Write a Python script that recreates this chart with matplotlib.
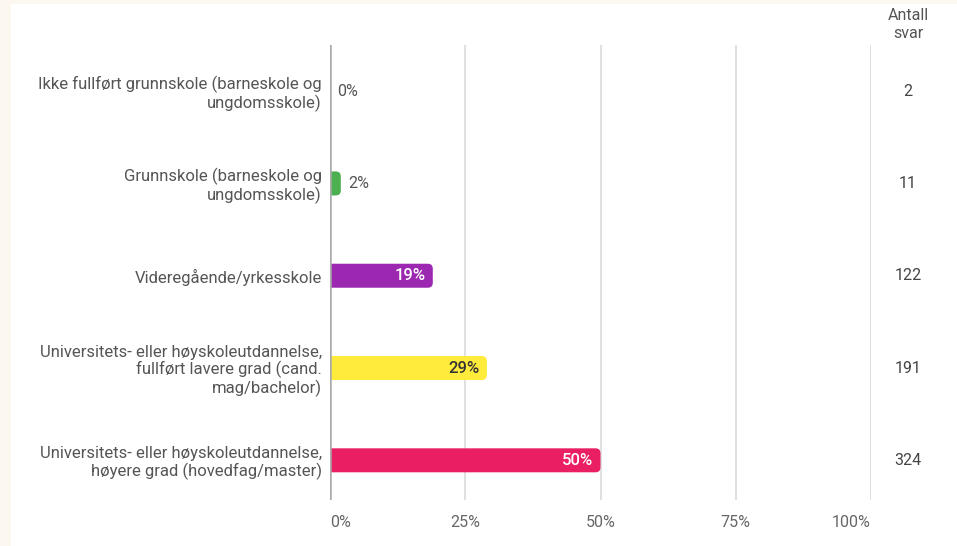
import numpy as np
from matplotlib import pyplot as plt
import matplotlib.transforms as mtransforms
from matplotlib.patches import FancyBboxPatch, Rectangle

# Data
kategorier = [
    'Ikke fullført grunnskole (barneskole og\nungdomsskole)',
    'Grunnskole (barneskole og\nungdomsskole)',
    'Videregående/yrkesskole',
    'Universitets- eller høyskoleutdannelse,\nfullført lavere grad (cand.\nmag/bachelor)',
    'Universitets- eller høyskoleutdannelse,\nhøyere grad (hovedfag/master)',
]
prosent = [0, 2, 19, 29, 50]
antall_svar = [2, 11, 122, 191, 324]
farger = ['#4caf50', '#4caf50', '#9c27b0', '#ffeb3b', '#e91e63']
tekstfarger = ['#555555', '#555555', 'white', '#333333', 'white']
xticks = [0, 25, 50, 75, 100]

W, H = 957, 546
fig = plt.figure(figsize=(W / 100, H / 100), dpi=100)
fig.patch.set_facecolor('#fdf8ef')
# hvitt panel bak alt annet
fig.patches.append(Rectangle((11 / W, 0), 1 - 11 / W, 1 - 4 / H,
                             transform=fig.transFigure, facecolor='white',
                             edgecolor='none', zorder=-10))

x0, x1 = 330, 871
y_top, y_bot = 45, 500
ax = fig.add_axes([x0 / W, 1 - y_bot / H, (x1 - x0) / W, (y_bot - y_top) / H])
ax.set_facecolor('none')
ax.set_xlim(0, 100)
ax.set_ylim(4.43, -0.5)

px_x = 100 / (x1 - x0)          # dataenheter per piksel (x)
px_y = 4.93 / (y_bot - y_top)   # dataenheter per piksel (y)
bar_h = 24 * px_y
radius = 5 * px_x

for x in xticks:
    ax.axvline(x, color='#aaaaaa' if x == 0 else '#dddddd',
               lw=1.8 if x == 0 else 1.3, zorder=4 if x == 0 else 1)

ypos = np.arange(len(kategorier))
for y, p, c, tc in zip(ypos, prosent, farger, tekstfarger):
    if p > 0:
        patch = FancyBboxPatch((-2 * radius, y - bar_h / 2), p + 2 * radius, bar_h,
                               boxstyle='round,pad=0,rounding_size=%f' % radius,
                               mutation_aspect=px_y / px_x,
                               facecolor=c, edgecolor='none', zorder=3)
        ax.add_patch(patch)
    if p >= 10:
        ax.text(p - 7 * px_x, y, '%d%%' % p, ha='right', va='center',
                color=tc, fontsize=12, family='Roboto', fontweight='medium',
                zorder=5)
    else:
        ax.text(p + 7 * px_x, y, '%d%%' % p, ha='left', va='center',
                color='#555555', fontsize=11.5, family='Roboto', zorder=5)

# antall svar-kolonne (x i figurkoordinater, y i datakoordinater)
trans = mtransforms.blended_transform_factory(fig.transFigure, ax.transData)
for y, n in zip(ypos, antall_svar):
    ax.text(908 / W, y, str(n), transform=trans, ha='center', va='center',
            fontsize=11.5, family='Roboto', color='#444444', clip_on=False)
fig.text(908 / W, 1 - 25 / H, 'Antall\nsvar', ha='center', va='center',
         fontsize=11.5, family='Roboto', color='#555555', linespacing=1.25)

ax.set_yticks(ypos)
ax.set_yticklabels(kategorier, family='Roboto', fontsize=12, color='#555555',
                   linespacing=1.1)
ax.set_xticks(xticks)
ax.set_xticklabels(['%d%%' % x for x in xticks], family='Roboto', fontsize=11.5,
                   color='#666666')
tl = ax.get_xticklabels()
tl[0].set_horizontalalignment('left')
tl[-1].set_horizontalalignment('right')
ax.tick_params(axis='y', length=0, pad=6)
ax.tick_params(axis='x', length=0, pad=11)
for s in ax.spines.values():
    s.set_visible(False)

fig.savefig('out.png', dpi=100, facecolor=fig.get_facecolor())
